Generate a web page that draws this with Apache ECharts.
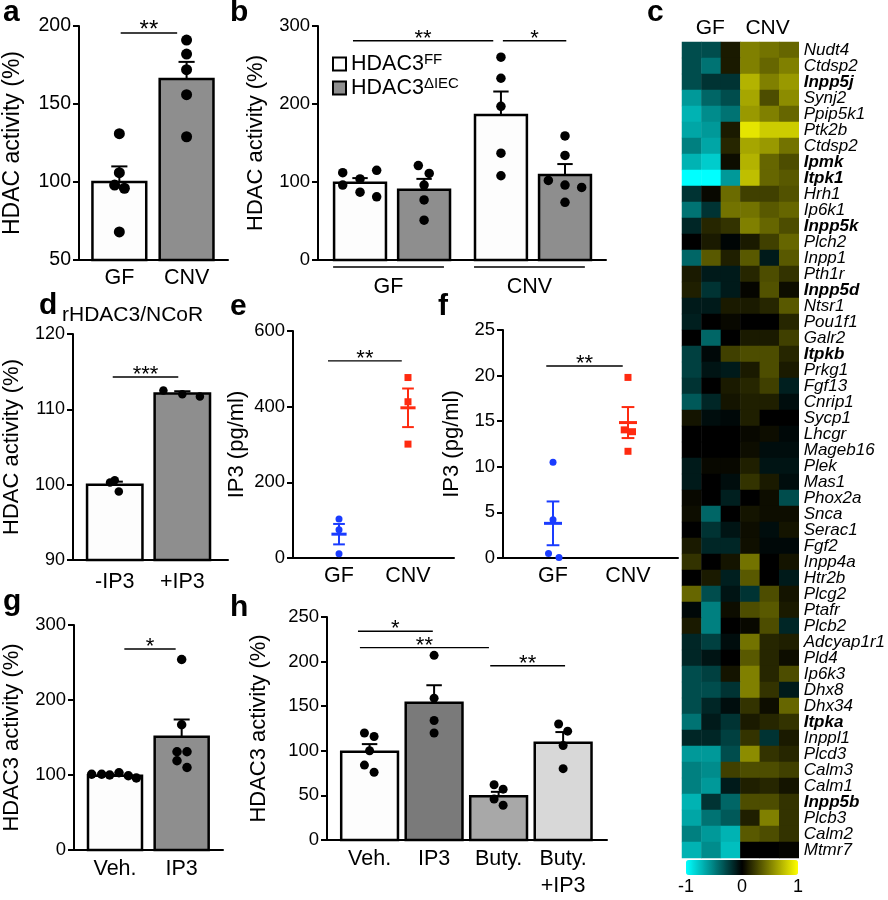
<!DOCTYPE html>
<html>
<head>
<meta charset="utf-8">
<script src="https://cdn.jsdelivr.net/npm/echarts@6/dist/echarts.min.js"></script>
<style>
  html, body { margin: 0; background: #fff; }
  #chart { width: 888px; height: 900px; }
</style>
</head>
<body>
<div id="chart"></div>
<script>
const FONT = "'Liberation Sans', Arial, Helvetica, sans-serif";
const WHITE = '#fdfdfd';
const GREY = '#8e8e8e';

// a - HDAC activity, GF vs CNV
const aCats = ['GF', 'CNV'];
const aMean = [100, 166];
const aSem = [10, 11];
const aPts = [[131, 106, 98, 96, 68], [191, 182, 172, 156, 129]];
const aJit = [[0, 0, -0.07, 0.075, 0], [0, 0, 0, 0, 0]];

// b - HDAC activity by genotype
const bGroups = ['GF', 'CNV'];
const bGeno = ['FF', 'ΔIEC'];
const bMean = [[99, 90], [186, 109]];
const bSem = [[6, 14], [30, 14]];
const bPts = [
  [[112, 96, 104, 87, 115, 81], [121, 111, 96, 77, 51]],
  [[260, 233, 197, 137, 108], [159, 134, 102, 96, 93, 74]]
];
const bJit = [
  [[-0.27, -0.27, 0, 0, 0.26, 0.26], [-0.09, 0.08, 0, 0, 0]],
  [[0, 0, 0, 0, 0], [0, 0, -0.26, 0, 0.26, 0]]
];

// c - heatmap
const heatHeads = ['GF', 'CNV'];
const genes = ['Nudt4', 'Ctdsp2', 'Inpp5j', 'Synj2', 'Ppip5k1', 'Ptk2b', 'Ctdsp2', 'Ipmk', 'Itpk1', 'Hrh1',
  'Ip6k1', 'Inpp5k', 'Plch2', 'Inpp1', 'Pth1r', 'Inpp5d', 'Ntsr1', 'Pou1f1', 'Galr2', 'Itpkb',
  'Prkg1', 'Fgf13', 'Cnrip1', 'Sycp1', 'Lhcgr', 'Mageb16', 'Plek', 'Mas1', 'Phox2a', 'Snca',
  'Serac1', 'Fgf2', 'Inpp4a', 'Htr2b', 'Plcg2', 'Ptafr', 'Plcb2', 'Adcyap1r1', 'Pld4', 'Ip6k3',
  'Dhx8', 'Dhx34', 'Itpka', 'Inppl1', 'Plcd3', 'Calm3', 'Calm1', 'Inpp5b', 'Plcb3', 'Calm2', 'Mtmr7'];
const boldGenes = ['Inpp5j', 'Ipmk', 'Itpk1', 'Inpp5k', 'Inpp5d', 'Itpkb', 'Itpka', 'Inpp5b'];
const heat = [
  [-0.30, -0.30, 0.10, 0.50, 0.45, 0.40],
  [-0.30, -0.45, 0.10, 0.50, 0.40, 0.50],
  [-0.30, -0.20, -0.20, 0.70, 0.50, 0.60],
  [-0.60, -0.40, -0.30, 0.65, 0.30, 0.55],
  [-0.70, -0.55, -0.45, 0.60, 0.50, 0.40],
  [-0.65, -0.60, 0.10, 0.90, 0.80, 0.80],
  [-0.50, -0.65, 0.15, 0.65, 0.60, 0.45],
  [-0.70, -0.80, 0.05, 0.70, 0.40, 0.30],
  [-1.00, -1.00, -0.60, 0.75, 0.40, 0.35],
  [-0.20, 0.03, 0.42, 0.25, 0.25, 0.32],
  [-0.45, -0.20, 0.45, 0.45, 0.35, 0.40],
  [-0.15, 0.15, 0.20, 0.50, 0.40, 0.30],
  [0.00, 0.10, -0.02, 0.10, 0.25, 0.40],
  [-0.40, 0.35, 0.12, 0.35, -0.10, 0.35],
  [0.10, -0.10, -0.10, 0.15, 0.30, 0.20],
  [0.12, -0.20, -0.10, 0.02, 0.32, 0.05],
  [-0.10, -0.10, 0.10, 0.10, 0.15, 0.35],
  [-0.12, 0.00, 0.03, 0.00, 0.00, 0.15],
  [0.00, -0.40, 0.00, 0.10, 0.10, 0.25],
  [-0.25, -0.03, 0.25, 0.30, 0.30, 0.15],
  [-0.25, -0.08, -0.10, 0.10, 0.30, 0.10],
  [-0.20, 0.00, 0.10, 0.15, 0.25, -0.12],
  [-0.35, -0.15, 0.08, 0.12, 0.12, -0.05],
  [0.08, -0.05, -0.03, 0.12, 0.00, 0.00],
  [0.00, 0.00, 0.00, 0.03, 0.05, -0.03],
  [0.00, 0.00, 0.00, 0.05, -0.05, -0.05],
  [-0.10, 0.03, 0.03, 0.12, -0.08, -0.08],
  [-0.10, 0.00, -0.05, 0.20, 0.10, -0.05],
  [0.03, 0.00, -0.12, 0.00, 0.05, -0.30],
  [0.05, -0.40, 0.00, 0.08, 0.05, 0.05],
  [0.00, -0.20, -0.08, 0.05, -0.05, 0.08],
  [0.10, -0.15, -0.15, 0.06, -0.03, -0.03],
  [0.20, 0.00, 0.08, 0.45, 0.00, 0.08],
  [0.00, 0.10, -0.12, 0.35, 0.00, -0.10],
  [0.40, -0.30, -0.08, -0.20, 0.30, 0.08],
  [-0.03, -0.50, 0.05, 0.30, 0.35, 0.10],
  [0.10, -0.50, 0.00, 0.03, 0.30, -0.15],
  [-0.15, -0.25, -0.05, 0.45, 0.15, 0.12],
  [-0.15, -0.08, 0.00, 0.35, 0.15, 0.05],
  [-0.30, -0.25, 0.08, 0.50, 0.15, 0.30],
  [-0.30, -0.30, -0.20, 0.50, 0.20, -0.10],
  [-0.30, -0.15, -0.05, 0.20, 0.05, 0.40],
  [-0.45, -0.10, -0.20, 0.10, 0.15, 0.20],
  [-0.15, -0.15, -0.25, 0.20, -0.20, 0.10],
  [-0.60, -0.60, -0.30, 0.55, 0.20, 0.15],
  [-0.50, -0.55, 0.25, 0.30, 0.30, 0.25],
  [-0.50, -0.60, -0.10, 0.12, 0.15, 0.08],
  [-0.70, -0.20, -0.40, 0.30, 0.30, 0.20],
  [-0.65, -0.45, -0.35, 0.12, 0.50, 0.20],
  [-0.50, -0.60, -0.70, 0.35, 0.30, 0.20],
  [-0.70, -0.55, -0.75, 0.00, 0.00, 0.02]
];

// d - recombinant HDAC3/NCoR
const dCats = ['-IP3', '+IP3'];
const dMean = [100, 112.1];
const dSem = [0.4, 0.3];
const dPts = [[100.6, 100.3, 99.1], [112.5, 112.0, 111.7]];
const dJit = [[0, -0.07, 0.06], [-0.28, 0, 0.26]];

// e - IP3 (pg/ml)
const eCats = ['GF', 'CNV'];
const ePts = [[103, 75, 11], [477, 413, 301]];
const eJit = [[0, 0, 0], [0, 0, 0]];
const eMean = [63, 397];
const eSem = [27, 51];

// f - IP3 (pg/ml)
const fCats = ['GF', 'CNV'];
const fPts = [[10.5, 4.2, 0.5, 0.05], [19.8, 14.05, 13.85, 11.7]];
const fJit = [[0, 0, -0.06, 0.08], [0, -0.05, 0.06, 0]];
const fMean = [3.8, 14.85];
const fSem = [2.4, 1.7];

// g - HDAC3 activity, Veh vs IP3
const gCats = ['Veh.', 'IP3'];
const gMean = [99, 151];
const gSem = [1, 23];
const gPts = [[101, 101, 100, 103, 99, 96], [254, 167, 131, 131, 119, 110]];
const gJit = [[-0.35, -0.2, -0.08, 0.06, 0.2, 0.32], [0, 0, -0.07, 0.08, -0.07, 0.08]];

// h - HDAC3 activity with butyrate
const hCats = ['Veh.', 'IP3', 'Buty.', 'Buty.\n+IP3'];
const hMean = [99, 154, 49, 109];
const hSem = [8.5, 19.5, 5, 12];
const hPts = [[120, 116, 100, 84, 76], [207, 159, 134, 120], [62, 57, 46, 39], [130, 122, 106, 80]];
const hJit = [[-0.08, 0.07, 0, -0.08, 0.07], [0, 0, 0, 0], [-0.07, 0.07, -0.07, 0.07], [-0.07, 0.07, 0, 0]];

// significance bars: [from, to, level, stars]
const aSig = [[0.02, 0.86, 195.5, '**']];
const bSig = [[-0.11, 2.08, 281, '**'], [2.23, 3.22, 281, '*']];
const dSig = [[-0.03, 0.94, 114.3, '***']];
const eSig = [[-0.16, 0.91, 521, '**']];
const fSig = [[-0.09, 0.93, 21.05, '**']];
const gSig = [[0.14, 0.91, 268, '*']];
const hSig = [[-0.18, 0.98, 234, '*'], [-0.15, 1.85, 215.7, '**'], [1.87, 3.03, 195.3, '**']];

const grids = [], xAxes = [], yAxes = [], series = [];

function addPanel(p) {
  grids.push({ left: p.left, top: p.top, width: p.width, height: p.height });
  const gi = grids.length - 1;
  xAxes.push({
    type: 'value', gridIndex: gi, min: p.xMin, max: p.xMax,
    axisLine: { onZero: false, lineStyle: { color: '#000', width: 2 } },
    axisTick: { show: false }, splitLine: { show: false },
    axisLabel: {
      customValues: p.labelAt, formatter: v => p.labels[p.labelAt.indexOf(v)] || '',
      fontSize: 21.5, color: '#000', margin: p.labelMargin, lineHeight: 27, fontFamily: FONT
    }
  });
  yAxes.push({
    type: 'value', gridIndex: gi, min: p.yMin, max: p.yMax, interval: p.yStep,
    name: p.yName, nameLocation: 'middle', nameGap: p.nameGap,
    nameTextStyle: { fontSize: p.nameSize || 22, color: '#000', fontFamily: FONT },
    axisLine: { show: true, onZero: false, lineStyle: { color: '#000', width: 2 } },
    axisTick: { show: true, length: 6, lineStyle: { color: '#000', width: 2 } },
    axisLabel: { fontSize: p.tickSize || 18.5, color: '#000', margin: 8, fontFamily: FONT },
    splitLine: { show: false }
  });
  return { xi: xAxes.length - 1, yi: yAxes.length - 1, base: p.yMin };
}

function barSeries(ax, items, width, name) {
  return {
    type: 'custom', name, xAxisIndex: ax.xi, yAxisIndex: ax.yi, data: items, clip: false,
    encode: { x: 0, y: 1 },
    renderItem(params, api) {
      const x = api.value(0), v = api.value(1);
      const tl = api.coord([x - width / 2, v]);
      const br = api.coord([x + width / 2, ax.base]);
      return {
        type: 'rect',
        shape: { x: tl[0], y: tl[1], width: br[0] - tl[0], height: br[1] - tl[1] },
        style: { fill: api.visual('color'), stroke: '#000', lineWidth: 2.5 }
      };
    }
  };
}

function errSeries(ax, rows, cap, color, both, meanHalf) {
  return {
    type: 'custom', xAxisIndex: ax.xi, yAxisIndex: ax.yi, data: rows, clip: false, z: 3,
    encode: { x: 0, y: 1 },
    renderItem(params, api) {
      const x = api.value(0), m = api.value(1), s = api.value(2);
      const st = { stroke: color, lineWidth: 2 };
      const top = api.coord([x, m + s]);
      const bot = api.coord([x, both ? m - s : m]);
      const l = api.coord([x - cap, m + s]), r = api.coord([x + cap, m + s]);
      const kids = [
        { type: 'line', shape: { x1: top[0], y1: top[1], x2: bot[0], y2: bot[1] }, style: st },
        { type: 'line', shape: { x1: l[0], y1: l[1], x2: r[0], y2: r[1] }, style: st }
      ];
      if (both) {
        const l2 = api.coord([x - cap, m - s]), r2 = api.coord([x + cap, m - s]);
        const ml = api.coord([x - meanHalf, m]), mr = api.coord([x + meanHalf, m]);
        kids.push({ type: 'line', shape: { x1: l2[0], y1: l2[1], x2: r2[0], y2: r2[1] }, style: st });
        kids.push({ type: 'line', shape: { x1: ml[0], y1: ml[1], x2: mr[0], y2: mr[1] }, style: { stroke: color, lineWidth: 3 } });
      }
      return { type: 'group', children: kids };
    }
  };
}

function dotSeries(ax, pts, jit, xs, color, size, symbol) {
  const data = [];
  pts.forEach((arr, i) => arr.forEach((v, j) => data.push([xs[i] + jit[i][j], v])));
  return {
    type: 'scatter', xAxisIndex: ax.xi, yAxisIndex: ax.yi, data, clip: false, z: 4,
    symbol: symbol || 'circle', symbolSize: size, itemStyle: { color, opacity: 1 }, silent: true
  };
}

function sigSeries(ax, rows, fontSize) {
  return {
    type: 'custom', xAxisIndex: ax.xi, yAxisIndex: ax.yi, clip: false, z: 5,
    data: rows.map(r => [r[0], r[2], r[1]]), encode: { x: 0, y: 1 },
    renderItem(params, api) {
      const r = rows[params.dataIndex];
      const p1 = api.coord([r[0], r[2]]), p2 = api.coord([r[1], r[2]]);
      return {
        type: 'group', children: [
          { type: 'line', shape: { x1: p1[0], y1: p1[1], x2: p2[0], y2: p2[1] }, style: { stroke: '#000', lineWidth: 1.4 } },
          { type: 'text', x: (p1[0] + p2[0]) / 2, y: p1[1] + 9,
            style: { text: r[3], fontSize, fontFamily: FONT, fill: '#000', align: 'center', verticalAlign: 'bottom' } }
        ]
      };
    }
  };
}

function colored(xs, vals, colors) {
  return vals.map((v, i) => ({ value: [xs[i], v], itemStyle: { color: colors[i] } }));
}
function errRows(xs, means, sems) {
  return means.map((m, i) => [xs[i], m, sems[i]]);
}

// ---- panel a
const pa = addPanel({ left: 75, top: 26, width: 153, height: 234, xMin: -0.6, xMax: 1.616,
  labelAt: [0, 1], labels: aCats, labelMargin: 5, yMin: 50, yMax: 200, yStep: 50,
  yName: 'HDAC activity (%)', nameGap: 55, nameSize: 23, tickSize: 19.5 });
const aX = [0, 1];
series.push(barSeries(pa, colored(aX, aMean, [WHITE, GREY]), 0.8));
series.push(errSeries(pa, errRows(aX, aMean, aSem), 0.12, '#000', false));
series.push(dotSeries(pa, aPts, aJit, aX, '#000', 11));
series.push(sigSeries(pa, aSig, 24));

// ---- panel b
const pb = addPanel({ left: 318, top: 26, width: 288, height: 234, xMin: -0.656, xMax: 3.84,
  labelAt: [0.445, 2.645], labels: bGroups, labelMargin: 14, yMin: 0, yMax: 300, yStep: 100,
  yName: 'HDAC activity (%)', nameGap: 51 });
const GROUP_STEP = 2.2;
bGeno.forEach((gName, k) => {
  const xs = bGroups.map((g, i) => i * GROUP_STEP + k);
  const means = bGroups.map((g, i) => bMean[i][k]);
  const sems = bGroups.map((g, i) => bSem[i][k]);
  series.push(barSeries(pb, colored(xs, means, xs.map(() => k ? GREY : WHITE)), 0.81, gName));
  series.push(errSeries(pb, errRows(xs, means, sems), 0.12, '#000', false));
  series.push(dotSeries(pb, bGroups.map((g, i) => bPts[i][k]), bGroups.map((g, i) => bJit[i][k]), xs, '#000', 9.5));
});
series.push(sigSeries(pb, bSig, 22));
// group underlines below the axis
series.push({
  type: 'custom', xAxisIndex: pb.xi, yAxisIndex: pb.yi, clip: false,
  data: bGroups.map((g, i) => [i * GROUP_STEP - 0.42, 0, i * GROUP_STEP + 1.31]), encode: { x: 0, y: 1 },
  renderItem(params, api) {
    const p1 = api.coord([api.value(0), 0]), p2 = api.coord([api.value(2), 0]);
    return { type: 'line', shape: { x1: p1[0], y1: p1[1] + 7, x2: p2[0], y2: p2[1] + 7 },
      style: { stroke: '#000', lineWidth: 1.5 } };
  }
});

// ---- panel c (heatmap)
grids.push({ left: 682, top: 42, width: 121, height: 816 });
const cg = grids.length - 1;
xAxes.push({ type: 'category', gridIndex: cg, data: [0, 1, 2, 3, 4, 5], show: false });
const cxi = xAxes.length - 1;
const heatHeadAt = [1.45, 4.4];
xAxes.push({
  type: 'value', gridIndex: cg, position: 'top', min: 0, max: 6,
  axisLine: { show: false }, axisTick: { show: false }, splitLine: { show: false },
  axisLabel: { customValues: heatHeadAt, formatter: v => heatHeads[heatHeadAt.indexOf(v)] || '',
    fontSize: 21, color: '#000', margin: 3, fontFamily: FONT }
});
yAxes.push({
  type: 'category', gridIndex: cg, data: genes, inverse: true, position: 'right',
  axisLine: { show: false }, axisTick: { show: false },
  axisLabel: {
    interval: 0, margin: 5, fontSize: 17, fontStyle: 'italic', color: '#000', fontFamily: FONT,
    formatter: v => boldGenes.includes(v) ? '{b|' + v + '}' : v,
    rich: { b: { fontSize: 17, fontStyle: 'italic', fontWeight: 'bold', color: '#000', fontFamily: FONT } }
  }
});
const cyi = yAxes.length - 1;
const heatData = [];
heat.forEach((row, r) => row.forEach((v, c) => heatData.push([c, r, v])));
series.push({ type: 'heatmap', xAxisIndex: cxi, yAxisIndex: cyi, data: heatData, silent: true });
const heatSeriesIndex = series.length - 1;

// colour bar scale
grids.push({ left: 686, top: 860, width: 112, height: 15 });
const kg = grids.length - 1;
xAxes.push({
  type: 'value', gridIndex: kg, min: -1, max: 1, interval: 1,
  axisLine: { show: false }, splitLine: { show: false },
  axisTick: { show: true, inside: true, length: 3, customValues: [-0.5, 0.5], lineStyle: { color: '#000', width: 2 } },
  axisLabel: { fontSize: 18, color: '#000', margin: 3, fontFamily: FONT }
});
yAxes.push({ type: 'value', gridIndex: kg, show: false });

// ---- panel d
const pd = addPanel({ left: 72, top: 334, width: 156, height: 226, xMin: -0.618, xMax: 1.676,
  labelAt: [0, 1], labels: dCats, labelMargin: 9, yMin: 90, yMax: 120, yStep: 10,
  yName: 'HDAC activity (%)', nameGap: 50, tickSize: 18 });
const dX = [0, 1];
series.push(barSeries(pd, colored(dX, dMean, [WHITE, GREY]), 0.82));
series.push(errSeries(pd, errRows(dX, dMean, dSem), 0.12, '#000', false));
series.push(dotSeries(pd, dPts, dJit, dX, '#000', 8.5));
series.push(sigSeries(pd, dSig, 22));

// ---- panel e
const BLUE = '#1a3cff', RED = '#ff2a10';
const pe = addPanel({ left: 293, top: 331, width: 161, height: 227, xMin: -0.667, xMax: 1.667,
  labelAt: [0, 1], labels: eCats, labelMargin: 5, yMin: 0, yMax: 600, yStep: 200,
  yName: 'IP3 (pg/ml)', nameGap: 45 });
series.push(dotSeries(pe, [ePts[0]], [eJit[0]], [0], BLUE, 7));
series.push(dotSeries(pe, [ePts[1]], [eJit[1]], [1], RED, 7, 'rect'));
series.push(errSeries(pe, [[0, eMean[0], eSem[0]]], 0.085, BLUE, true, 0.11));
series.push(errSeries(pe, [[1, eMean[1], eSem[1]]], 0.085, RED, true, 0.11));
series.push(sigSeries(pe, eSig, 22));

// ---- panel f
const pf = addPanel({ left: 503, top: 330, width: 175, height: 228, xMin: -0.667, xMax: 1.667,
  labelAt: [0, 1], labels: fCats, labelMargin: 5, yMin: 0, yMax: 25, yStep: 5,
  yName: 'IP3 (pg/ml)', nameGap: 40 });
series.push(dotSeries(pf, [fPts[0]], [fJit[0]], [0], BLUE, 7));
series.push(dotSeries(pf, [fPts[1]], [fJit[1]], [1], RED, 7, 'rect'));
series.push(errSeries(pf, [[0, fMean[0], fSem[0]]], 0.085, BLUE, true, 0.12));
series.push(errSeries(pf, [[1, fMean[1], fSem[1]]], 0.085, RED, true, 0.12));
series.push(sigSeries(pf, fSig, 22));

// ---- panel g
const pg = addPanel({ left: 72, top: 625, width: 151, height: 225, xMin: -0.615, xMax: 1.62,
  labelAt: [0, 1], labels: gCats, labelMargin: 6, yMin: 0, yMax: 300, yStep: 100,
  yName: 'HDAC3 activity (%)', nameGap: 51 });
const gX = [0, 1];
series.push(barSeries(pg, colored(gX, gMean, [WHITE, GREY]), 0.81));
series.push(errSeries(pg, errRows(gX, gMean, gSem), 0.12, '#000', false));
series.push(dotSeries(pg, gPts, gJit, gX, '#000', 9.5));
series.push(sigSeries(pg, gSig, 22));

// ---- panel h
const ph = addPanel({ left: 327, top: 617, width: 280, height: 233, xMin: -0.66, xMax: 3.68,
  labelAt: [0, 1, 2, 3], labels: hCats, labelMargin: 6, yMin: 0, yMax: 250, yStep: 50,
  yName: 'HDAC3 activity (%)', nameGap: 57 });
const hX = [0, 1, 2, 3];
series.push(barSeries(ph, colored(hX, hMean, [WHITE, '#7a7a7a', '#a8a8a8', '#d8d8d8']), 0.88));
series.push(errSeries(ph, errRows(hX, hMean, hSem), 0.12, '#000', false));
series.push(dotSeries(ph, hPts, hJit, hX, '#000', 9));
series.push(sigSeries(ph, hSig, 22));

// panel letters, positioned by top edge of the text box
const letters = [['a', 3, -2], ['b', 230, -2], ['c', 647, -2], ['d', 39, 291], ['e', 230, 292],
  ['f', 438, 292], ['g', 3, 587], ['h', 230, 593]];

const option = {
  backgroundColor: '#fff',
  animation: false,
  textStyle: { fontFamily: FONT },
  grid: grids,
  xAxis: xAxes,
  yAxis: yAxes,
  series,
  legend: {
    left: 332, top: 52, orient: 'vertical', padding: 0, itemGap: 1,
    itemWidth: 13, itemHeight: 13, selectedMode: false,
    data: [
      { name: 'FF', icon: 'rect', itemStyle: { color: WHITE, borderColor: '#000', borderWidth: 2 } },
      { name: 'ΔIEC', icon: 'rect', itemStyle: { color: GREY, borderColor: '#000', borderWidth: 2 } }
    ],
    formatter: n => '{m|HDAC3}{s|' + n + '}',
    textStyle: {
      rich: {
        m: { fontSize: 21.5, lineHeight: 24, color: '#000', fontFamily: FONT },
        s: { fontSize: 15, lineHeight: 15, verticalAlign: 'top', color: '#000', fontFamily: FONT }
      }
    }
  },
  visualMap: {
    type: 'continuous', seriesIndex: heatSeriesIndex, min: -1, max: 1,
    orient: 'horizontal', left: 686, top: 860, itemWidth: 15, itemHeight: 112,
    padding: 0, calculable: false, hoverLink: false,
    inRange: { color: ['#00ffff', '#000000', '#ffff00'] }
  },
  graphic: [
    ...letters.map(([t, x, y]) => ({
      type: 'text', x, y,
      style: { text: t, fontSize: 30, fontWeight: 'bold', fontFamily: FONT, fill: '#000', verticalAlign: 'top' }
    })),
    { type: 'text', x: 62, y: 305,
      style: { text: 'rHDAC3/NCoR', fontSize: 21, fontFamily: FONT, fill: '#000', verticalAlign: 'top' } }
  ]
};

const chart = echarts.init(document.getElementById('chart'), null, { renderer: 'canvas' });
chart.setOption(option);
</script>
</body>
</html>
